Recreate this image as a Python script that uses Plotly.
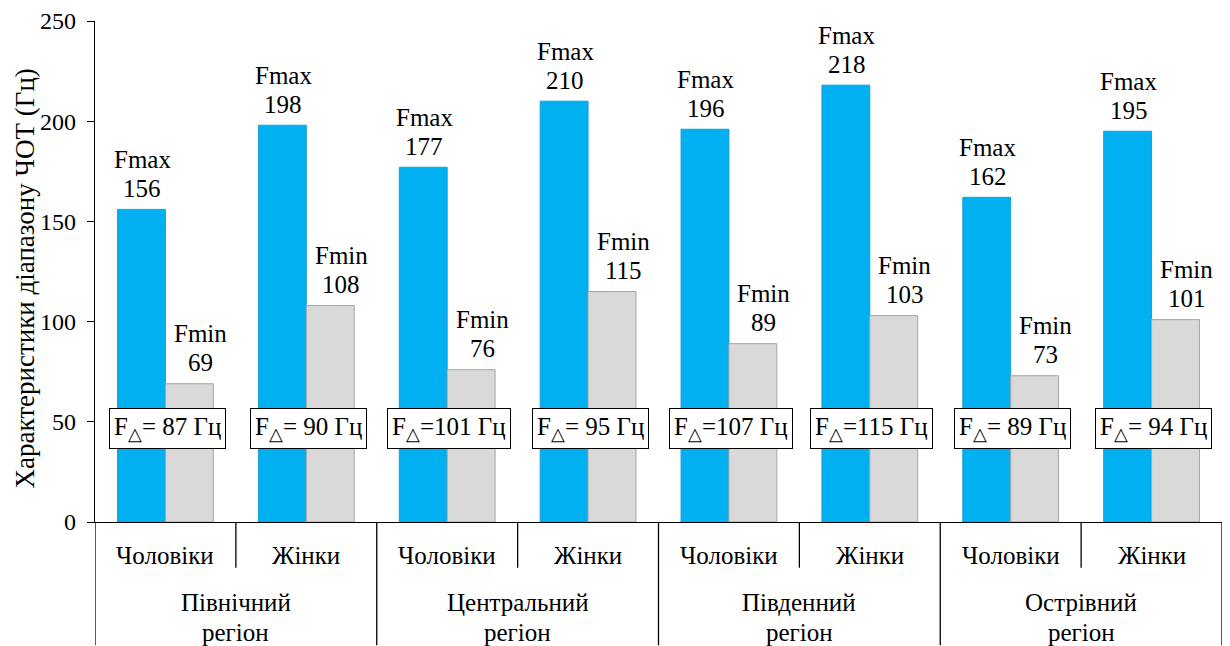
import plotly.graph_objects as go

# Regions, groups and the frequency characteristics (Hz)
regions = [("Північний", "регіон"), ("Центральний", "регіон"), ("Південний", "регіон"), ("Острівний", "регіон")]
groups = ["Чоловіки", "Жінки"]
f_max = [156, 198, 177, 210, 196, 218, 162, 195]
f_min = [69, 108, 76, 115, 89, 103, 73, 101]
y_ticks = [0, 50, 100, 150, 200, 250]
y_title = "Характеристики діапазону ЧОТ (Гц)"

FONT = "Liberation Serif"
FS = 25
BLUE = "#00B0F0"
GREY = "#D9D9D9"


def txt(size=FS):
    return dict(family=FONT, size=size, color="black")


n = len(f_max)
xs = [i + 0.5 for i in range(n)]
BAR_PX = 24  # half of a single bar width in pixels (used to centre labels on bars)

fig = go.Figure()
fig.add_trace(go.Bar(x=xs, y=f_max, name="Fmax", marker=dict(color=BLUE, line=dict(color="#1C9FD8", width=1))))
fig.add_trace(go.Bar(x=xs, y=f_min, name="Fmin", marker=dict(color=GREY, line=dict(color="#A6A6A6", width=1))))

ann = []
shapes = []
for i in range(n):
    # value labels above the bars: number, then series name above it
    for val, name, dx in ((f_max[i], "Fmax", -BAR_PX + 1), (f_min[i], "Fmin", BAR_PX + 11)):
        ann.append(dict(x=xs[i], y=val, xref="x", yref="y", text=str(val), showarrow=False,
                        xanchor="center", yanchor="middle", xshift=dx, yshift=21, font=txt()))
        ann.append(dict(x=xs[i], y=val, xref="x", yref="y", text=name, showarrow=False,
                        xanchor="center", yanchor="middle", xshift=dx, yshift=50, font=txt()))
    d = f_max[i] - f_min[i]
    sp = " " if d < 100 else ""
    ann.append(dict(x=xs[i], y=46.9, xref="x", yref="y", text=f"F<sub>△</sub>={sp}{d} Гц",
                    showarrow=False, xanchor="center", yanchor="middle", xshift=2,
                    bgcolor="white", bordercolor="black", borderwidth=1, borderpad=4,
                    font=txt()))
    # lower-level category label
    ann.append(dict(x=xs[i], y=0, xref="x", yref="paper", text=groups[i % 2], showarrow=False,
                    xanchor="center", yanchor="middle", yshift=-33, font=txt()))

for r, (l1, l2) in enumerate(regions):
    for line, dy in ((l1, -80), (l2, -110)):
        ann.append(dict(x=2 * r + 1, y=0, xref="x", yref="paper", text=line, showarrow=False,
                        xanchor="center", yanchor="middle", yshift=dy, font=txt()))

# Separators in the category axis area
PH = 504
for k in range(n + 1):
    y1 = -124 / PH if k % 2 == 0 else -46 / PH
    shapes.append(dict(type="line", xref="x", yref="paper", x0=k, x1=k, y0=0, y1=y1,
                       line=dict(color="black", width=1.3)))

ann.append(dict(x=0, y=0.5, xref="paper", yref="paper", text=y_title, textangle=-90,
                showarrow=False, xanchor="center", yanchor="middle", xshift=-71, yshift=-7,
                font=txt(27)))

fig.update_layout(
    width=1230, height=646,
    margin=dict(l=95, r=8, t=18, b=124),
    paper_bgcolor="white", plot_bgcolor="white",
    barmode="group", bargap=0.32, bargroupgap=0,
    showlegend=False,
    annotations=ann, shapes=shapes,
    font=txt(),
)
fig.update_xaxes(range=[0, n], showticklabels=False, showgrid=False, zeroline=False,
                 showline=True, linecolor="black", linewidth=1.3, ticks="")
fig.update_yaxes(range=[0, 250], tickvals=y_ticks, showgrid=False, zeroline=False,
                 showline=True, linecolor="black", linewidth=1.3, ticks="outside", ticklen=7,
                 tickcolor="black", tickfont=txt(24), ticklabelstandoff=6)

fig.write_html("out.html")
